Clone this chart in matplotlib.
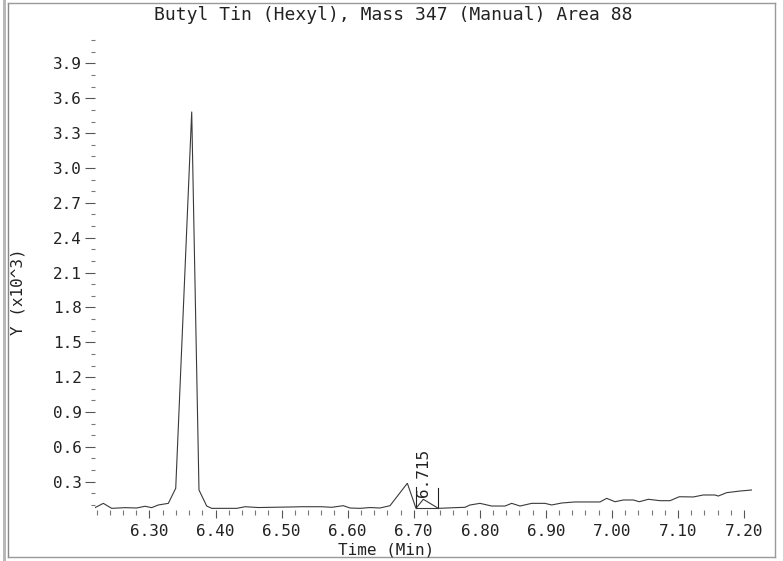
import matplotlib
matplotlib.use("Agg")
import matplotlib.pyplot as plt
from matplotlib.ticker import FixedLocator
from matplotlib.patches import Rectangle
from matplotlib.lines import Line2D
import numpy as np

# ---- data (time in minutes, intensity in counts) ----
time_min = [6.2175, 6.2301, 6.2428, 6.2629, 6.2806, 6.2932, 6.3033, 6.3133, 6.3285, 6.3397,
            6.3639, 6.3749, 6.3866, 6.3942, 6.4320, 6.4446, 6.4647, 6.5153, 6.5304, 6.5607,
            6.5758, 6.5934, 6.6035, 6.6187, 6.6338, 6.6489, 6.6641, 6.6903, 6.7034, 6.7145,
            6.7372, 6.7625, 6.7776, 6.7852, 6.8003, 6.8180, 6.8381, 6.8483, 6.8609, 6.8786,
            6.8987, 6.9088, 6.9240, 6.9441, 6.9642, 6.9819, 6.9921, 7.0047, 7.0172, 7.0324,
            7.0415, 7.0551, 7.0728, 7.0879, 7.1020, 7.1232, 7.1383, 7.1560, 7.1610, 7.1737,
            7.1939, 7.2116]
intensity = [77, 114, 71, 77, 74, 89, 77, 100, 114, 244,
             3485, 229, 91, 71, 71, 85, 78, 83, 85, 85,
             80, 94, 74, 71, 78, 74, 94, 287, 71, 149,
             71, 77, 80, 100, 114, 91, 91, 114, 91, 114,
             114, 100, 117, 126, 126, 126, 157, 128, 143, 143,
             128, 149, 137, 137, 171, 169, 186, 186, 177, 206,
             220, 229]

title = "Butyl Tin (Hexyl), Mass 347 (Manual) Area 88"
x_label = "Time (Min)"
y_label = "Y (x10^3)"
x_ticks = [6.30, 6.40, 6.50, 6.60, 6.70, 6.80, 6.90, 7.00, 7.10, 7.20]
y_ticks = [0.3, 0.6, 0.9, 1.2, 1.5, 1.8, 2.1, 2.4, 2.7, 3.0, 3.3, 3.6, 3.9]
peak_label = "6.715"
peak_rt = 6.715
peak_start = 6.7034
peak_end = 6.7372
peak_base = 71
peak_start_top = 255
peak_end_top = 244

FONT = "DejaVu Sans Mono"
FS = 11.5
TXT = "#222222"
W, H = 783, 561

fig = plt.figure(figsize=(W / 100, H / 100), dpi=100)
ax_left, ax_right, ax_bottom, ax_top = 95, 751.7, 510, 34
ax = fig.add_axes([ax_left / W, 1 - ax_bottom / H, (ax_right - ax_left) / W, (ax_bottom - ax_top) / H])

y = np.array(intensity) / 1000.0
ax.plot(time_min, y, color="#3a3a3a", lw=0.8, solid_joinstyle="miter")

# integration markers
ax.plot([peak_start, peak_start], [peak_base / 1000, peak_start_top / 1000], color="#222222", lw=0.8)
ax.plot([peak_end, peak_end], [peak_base / 1000, peak_end_top / 1000], color="#222222", lw=0.8)
ax.plot([peak_start, peak_end], [peak_base / 1000, peak_base / 1000], color="#3a3a3a", lw=0.8)
ax.text(peak_rt, 0.17, peak_label, rotation=90, ha="center", va="bottom",
        fontsize=FS, family=FONT, color=TXT)

ax.set_xlim(6.2175, 7.2116)
ax.set_ylim(0.0568, 4.153)

for s in ax.spines.values():
    s.set_visible(False)

ax.xaxis.set_major_locator(FixedLocator(x_ticks))
ax.set_xticklabels([f"{t:.2f}" for t in x_ticks])
ax.xaxis.set_minor_locator(FixedLocator(np.round(np.arange(6.22, 7.21, 0.02), 2)))
ax.yaxis.set_major_locator(FixedLocator(y_ticks))
ax.set_yticklabels([f"{t:.1f}" for t in y_ticks])
ax.yaxis.set_minor_locator(FixedLocator(np.round(np.arange(0.1, 4.15, 0.1), 1)))

ax.tick_params(axis="x", which="major", direction="out", length=5.8, width=0.8, color="#555555",
               pad=4.0, labelsize=FS, labelcolor=TXT)
ax.tick_params(axis="x", which="minor", direction="out", length=3.6, width=0.8, color="#777777")
ax.tick_params(axis="y", which="major", direction="out", length=7.2, width=0.8, color="#555555",
               pad=2.0, labelsize=FS, labelcolor=TXT)
ax.tick_params(axis="y", which="minor", direction="out", length=2.9, width=0.8, color="#777777")
for lab in ax.get_xticklabels() + ax.get_yticklabels():
    lab.set_family(FONT)

fig.text(393.5 / W, 1 - 15 / H, title, ha="center", va="center", fontsize=13, family=FONT, color=TXT)
fig.text(386 / W, 1 - 550 / H, x_label, ha="center", va="center", fontsize=FS, family=FONT, color=TXT)
fig.text(18 / W, 1 - 292 / H, y_label, ha="center", va="center", rotation=90, fontsize=FS, family=FONT,
         color=TXT)

# outer frame
fig.add_artist(Rectangle((3 / W, 0), 3 / W, 1, transform=fig.transFigure, facecolor="#b8b8b8",
                         edgecolor="none"))
fig.add_artist(Line2D([8 / W, 8 / W], [1 - 557 / H, 1 - 3 / H], transform=fig.transFigure, color="#888888", lw=1))
fig.add_artist(Line2D([8 / W, 774.5 / W], [1 - 3 / H, 1 - 3 / H], transform=fig.transFigure, color="#999999", lw=1))
fig.add_artist(Line2D([774.5 / W, 774.5 / W], [1 - 557 / H, 1 - 3 / H], transform=fig.transFigure, color="#999999", lw=1))
fig.add_artist(Line2D([8 / W, 774.5 / W], [1 - 557 / H, 1 - 557 / H], transform=fig.transFigure, color="#999999", lw=1))

fig.savefig("out.png", dpi=100)
